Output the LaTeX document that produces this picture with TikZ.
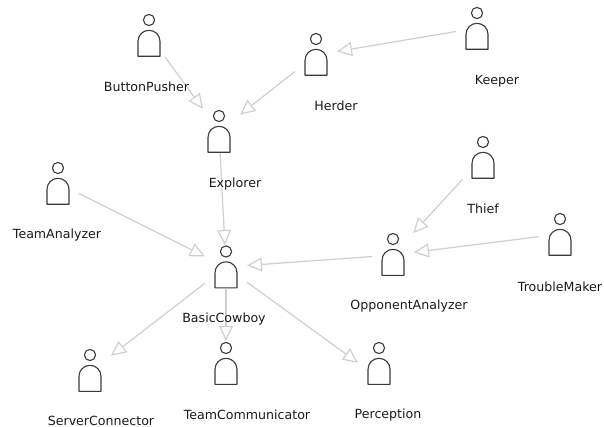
\documentclass[tikz,border=0pt]{standalone}
\usepackage{fontspec}
\setmainfont{DejaVu Sans}
\usetikzlibrary{arrows.meta}
\definecolor{linkgray}{HTML}{CFCFCF}
\definecolor{actorgray}{HTML}{3A3A3A}
\definecolor{labelcol}{HTML}{1A1A1A}
\tikzset{
  actorbox/.style={inner sep=0pt,outer sep=0pt,minimum width=42pt,minimum height=44pt},
  actorline/.style={draw=actorgray,line width=1.1pt,line join=round},
  lbl/.style={font=\fontsize{12.6pt}{14pt}\selectfont,text=labelcol,inner sep=0pt},
  link/.style={draw=linkgray,line width=1.2pt,-{Triangle[open,length=15pt,width=14pt,line width=1.2pt]}}
}
\newcommand{\actorfig}[4][15]{%
  \node[actorbox] (#2) at (#3,#4+#1) {};
  \draw[actorline] (#3,#4) circle (5.6);
  \draw[actorline] (#3-11,#4+36.3) -- (#3-11,#4+21.3) arc[start angle=180,end angle=360,radius=11] -- (#3+11,#4+36.3) -- cycle;
}
\newcommand{\actorname}[4]{\node[lbl] (#1label) at (#3,#4+1) {#2};}
\begin{document}
\begin{tikzpicture}[x=1pt,y=-1pt]
\useasboundingbox (0,0) rectangle (604,427);
\actorfig{bp}{149}{20}
\actorfig[16]{herder}{316}{39}
\actorfig{keeper}{477}{13}
\actorfig{explorer}{219}{116}
\actorfig{ta}{58}{168}
\actorfig[15.5]{basic}{226}{251.5}
\actorfig{thief}{483}{142}
\actorfig[16]{oa}{393}{239}
\actorfig{tm}{560}{219}
\actorfig[17]{sc}{90}{355}
\actorfig{tc}{226}{348}
\actorfig[30]{per}{379}{348}
\draw[link] (bp) -- (explorer);
\draw[link] (herder) -- (explorer);
\draw[link] (keeper) -- (herder);
\draw[link] (explorer) -- (basic);
\draw[link] (ta) -- (basic);
\draw[link] (oa) -- (basic);
\draw[link] (thief) -- (oa);
\draw[link] (tm) -- (oa);
\draw[link] (basic) -- (sc);
\draw[link] (basic) -- (tc);
\draw[link] (basic) -- (per);
\actorname{bp}{ButtonPusher}{146.5}{86}
\actorname{herder}{Herder}{336}{105}
\actorname{keeper}{Keeper}{497}{80}
\actorname{explorer}{Explorer}{235}{183}
\actorname{ta}{TeamAnalyzer}{57}{234}
\actorname{basic}{BasicCowboy}{224}{318}
\actorname{thief}{Thief}{483}{208}
\actorname{oa}{OpponentAnalyzer}{409}{305}
\actorname{tm}{TroubleMaker}{560}{286}
\actorname{sc}{ServerConnector}{101}{419.5}
\actorname{tc}{TeamCommunicator}{247}{414}
\actorname{per}{Perception}{388}{414}
\end{tikzpicture}
\end{document}
